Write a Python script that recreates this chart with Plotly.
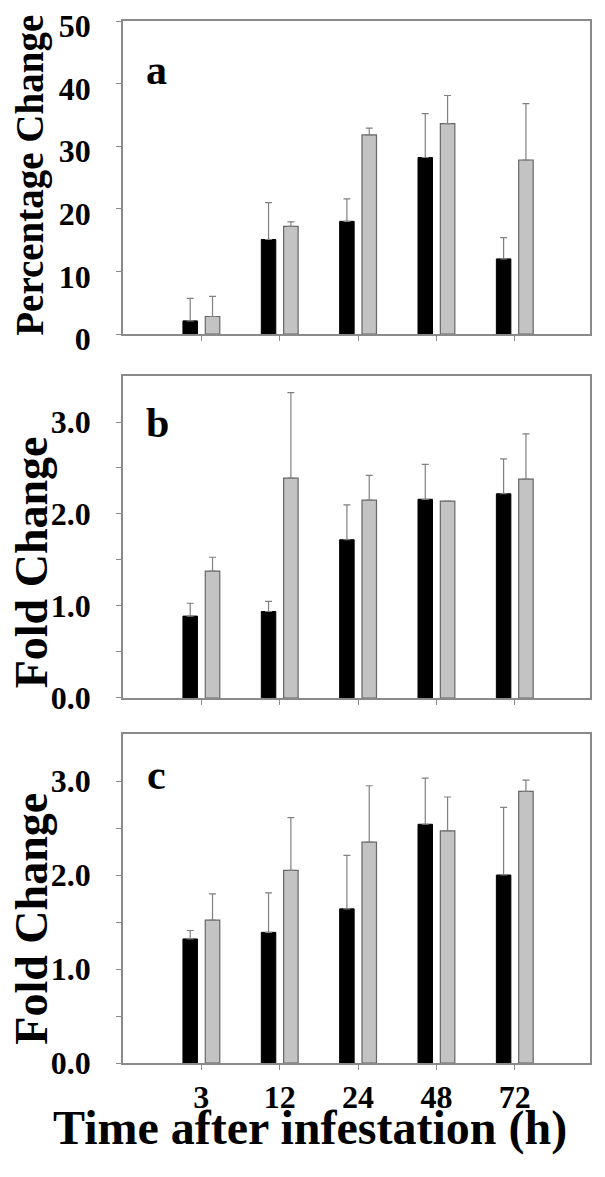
import plotly.graph_objects as go
from plotly.subplots import make_subplots

hours = ["3", "12", "24", "48", "72"]

# panel a: percentage change
a_black = [2.1, 15.1, 18.0, 28.2, 12.0]
a_black_err = [3.6, 5.9, 3.6, 7.0, 3.4]
a_gray = [2.8, 17.2, 31.8, 33.6, 27.8]
a_gray_err = [3.2, 0.7, 1.1, 4.5, 9.0]

# panel b: fold change
b_black = [0.89, 0.94, 1.72, 2.16, 2.22]
b_black_err = [0.14, 0.11, 0.38, 0.38, 0.38]
b_gray = [1.38, 2.39, 2.15, 2.14, 2.38]
b_gray_err = [0.15, 0.93, 0.27, 0.0, 0.49]

# panel c: fold change
c_black = [1.32, 1.39, 1.64, 2.54, 2.00]
c_black_err = [0.09, 0.42, 0.57, 0.49, 0.72]
c_gray = [1.52, 2.05, 2.35, 2.47, 2.89]
c_gray_err = [0.28, 0.56, 0.60, 0.36, 0.12]

panels = [
    ("a", a_black, a_black_err, a_gray, a_gray_err),
    ("b", b_black, b_black_err, b_gray, b_gray_err),
    ("c", c_black, c_black_err, c_gray, c_gray_err),
]

FONT = "Liberation Serif"
AXIS_GRAY = "#8a8a8a"
ERR_GRAY = "#808080"

fig = make_subplots(rows=3, cols=1, shared_xaxes=False, vertical_spacing=0.03)

for i, (label, blk, blk_err, gry, gry_err) in enumerate(panels, start=1):
    fig.add_trace(go.Bar(
        x=hours, y=blk, width=0.185, offset=-0.235,
        marker={"color": "black", "line": {"color": "black", "width": 1}},
        error_y={"type": "data", "array": blk_err, "arrayminus": [0] * 5,
                 "symmetric": False, "color": ERR_GRAY, "thickness": 1.2, "width": 3.5},
        showlegend=False,
    ), row=i, col=1)
    fig.add_trace(go.Bar(
        x=hours, y=gry, width=0.185, offset=0.05,
        marker={"color": "#c3c3c3", "line": {"color": "#666666", "width": 1.2}},
        error_y={"type": "data", "array": gry_err, "arrayminus": [0] * 5,
                 "symmetric": False, "color": ERR_GRAY, "thickness": 1.2, "width": 3.5},
        showlegend=False,
    ), row=i, col=1)

# three stacked boxes
domains = [[0.6996, 1.0], [0.3503, 0.6593], [0.0, 0.3157]]
for i, dom in enumerate(domains, start=1):
    sfx = "" if i == 1 else str(i)
    fig.layout["yaxis" + sfx].domain = dom

tick_font = {"family": FONT, "size": 32, "color": "black", "weight": "bold"}

for i in range(1, 4):
    fig.update_xaxes(
        row=i, col=1, type="category", range=[-1, 4.96],
        showline=True, mirror=True, linecolor=AXIS_GRAY, linewidth=1.5,
        ticks="outside", ticklen=5, tickcolor=AXIS_GRAY, tickwidth=1.2,
        showgrid=False, zeroline=False, showticklabels=(i == 3),
        tickfont=tick_font, ticklabelstandoff=0, automargin=False,
    )

fig.update_yaxes(
    showline=True, mirror=True, linecolor=AXIS_GRAY, linewidth=1.5,
    ticks="outside", ticklen=5, tickcolor=AXIS_GRAY, tickwidth=1.2,
    showgrid=False, zeroline=False, tickfont=tick_font, ticklabelstandoff=19,
    ticklabeloverflow="allow", automargin=False,
)

fig.update_yaxes(
    row=1, col=1, range=[0, 50], tickvals=[0, 10, 20, 30, 40, 50],
    ticktext=["0", "10", "20", "30", "40", "50"], ticklabelshift=5,
)
fold_vals = [0, 0.5, 1.0, 1.5, 2.0, 2.5, 3.0]
fold_text = ["0.0", "", "1.0", "", "2.0", "", "3.0"]
for i in (2, 3):
    fig.update_yaxes(row=i, col=1, range=[0, 3.5], tickvals=fold_vals, ticktext=fold_text)

def bold(size):
    return {"family": FONT, "size": size, "color": "black", "weight": "bold"}

annotations = [
    dict(text="Percentage Change", x=-0.198, y=0.852, textangle=-90, font=bold(39)),
    dict(text="Fold Change", x=-0.196, y=0.481, textangle=-90, font=bold(46)),
    dict(text="Fold Change", x=-0.196, y=0.139, textangle=-90, font=bold(46)),
]
for ann in annotations:
    ann.update(xref="paper", yref="paper", showarrow=False,
               xanchor="center", yanchor="middle")

letters = [("a", 0.071, 0.953), ("b", 0.074, 0.614), ("c", 0.071, 0.276)]
for txt, lx, ly in letters:
    annotations.append(dict(text=txt, x=lx, y=ly, xref="paper", yref="paper",
                            showarrow=False, font=bold(42),
                            xanchor="center", yanchor="middle"))

annotations.append(dict(
    text="Time after infestation (h)", x=0.4, y=-0.062, xref="paper", yref="paper",
    showarrow=False, xanchor="center", yanchor="middle", font=bold(48),
))

# the page body adds an 8px offset, so the figure is drawn 8px smaller
fig.update_layout(
    width=597, height=1169,
    margin={"l": 115, "r": 15, "t": 13, "b": 114, "autoexpand": False},
    plot_bgcolor="white", paper_bgcolor="white",
    annotations=annotations,
    barmode="overlay",
)

fig.write_html("out.html")
